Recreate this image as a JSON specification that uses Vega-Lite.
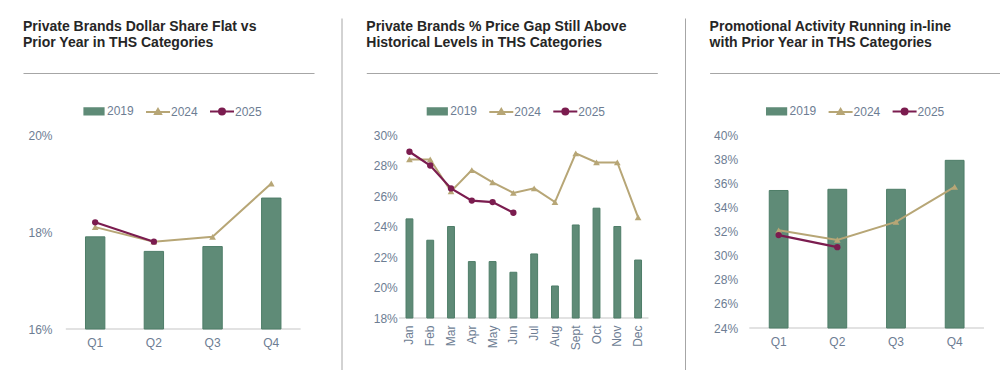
{
  "$schema": "https://vega.github.io/schema/vega-lite/v6.json",
  "padding": {"left": 23, "top": 18, "right": 0, "bottom": 0},
  "autosize": {"type": "pad"},
  "spacing": 52.3,
  "bounds": "flush",
  "resolve": {"scale": {"color": "independent"}, "legend": {"color": "independent"}},
  "datasets": {
    "p1": [
      {"period": "Q1", "series": "2019", "value": 0.179},
      {"period": "Q2", "series": "2019", "value": 0.176},
      {"period": "Q3", "series": "2019", "value": 0.177},
      {"period": "Q4", "series": "2019", "value": 0.187},
      {"period": "Q1", "series": "2024", "value": 0.181},
      {"period": "Q2", "series": "2024", "value": 0.178},
      {"period": "Q3", "series": "2024", "value": 0.179},
      {"period": "Q4", "series": "2024", "value": 0.190},
      {"period": "Q1", "series": "2025", "value": 0.182},
      {"period": "Q2", "series": "2025", "value": 0.178}
    ],
    "p2": [
      {"period": "Jan", "series": "2019", "value": 0.245},
      {"period": "Feb", "series": "2019", "value": 0.231},
      {"period": "Mar", "series": "2019", "value": 0.240},
      {"period": "Apr", "series": "2019", "value": 0.217},
      {"period": "May", "series": "2019", "value": 0.217},
      {"period": "Jun", "series": "2019", "value": 0.210},
      {"period": "Jul", "series": "2019", "value": 0.222},
      {"period": "Aug", "series": "2019", "value": 0.201},
      {"period": "Sept", "series": "2019", "value": 0.241},
      {"period": "Oct", "series": "2019", "value": 0.252},
      {"period": "Nov", "series": "2019", "value": 0.240},
      {"period": "Dec", "series": "2019", "value": 0.218},
      {"period": "Jan", "series": "2024", "value": 0.284},
      {"period": "Feb", "series": "2024", "value": 0.284},
      {"period": "Mar", "series": "2024", "value": 0.263},
      {"period": "Apr", "series": "2024", "value": 0.277},
      {"period": "May", "series": "2024", "value": 0.269},
      {"period": "Jun", "series": "2024", "value": 0.262},
      {"period": "Jul", "series": "2024", "value": 0.265},
      {"period": "Aug", "series": "2024", "value": 0.256},
      {"period": "Sept", "series": "2024", "value": 0.288},
      {"period": "Oct", "series": "2024", "value": 0.282},
      {"period": "Nov", "series": "2024", "value": 0.282},
      {"period": "Dec", "series": "2024", "value": 0.246},
      {"period": "Jan", "series": "2025", "value": 0.289},
      {"period": "Feb", "series": "2025", "value": 0.280},
      {"period": "Mar", "series": "2025", "value": 0.265},
      {"period": "Apr", "series": "2025", "value": 0.257},
      {"period": "May", "series": "2025", "value": 0.256},
      {"period": "Jun", "series": "2025", "value": 0.249}
    ],
    "p3": [
      {"period": "Q1", "series": "2019", "value": 0.354},
      {"period": "Q2", "series": "2019", "value": 0.355},
      {"period": "Q3", "series": "2019", "value": 0.355},
      {"period": "Q4", "series": "2019", "value": 0.379},
      {"period": "Q1", "series": "2024", "value": 0.321},
      {"period": "Q2", "series": "2024", "value": 0.313},
      {"period": "Q3", "series": "2024", "value": 0.328},
      {"period": "Q4", "series": "2024", "value": 0.357},
      {"period": "Q1", "series": "2025", "value": 0.317},
      {"period": "Q2", "series": "2025", "value": 0.307}
    ]
  },
  "hconcat": [
    {
      "width": 291, "height": 194,
      "title": {"text": ["Private Brands Dollar Share Flat vs", "Prior Year in THS Categories"], "anchor": "start", "frame": "group", "offset": -32},
      "data": {"name": "p1"},
      "resolve": {"scale": {"y": "independent"}, "axis": {"x": "independent", "y": "independent"}},
      "layer": [
        {
          "resolve": {"axis": {"x": "independent", "y": "independent"}},
          "layer": [
            {
              "data": {"values": [{"a": "Q1", "b": "Q4", "base": 0.16}]},
              "mark": {"type": "rule", "color": "#d9d9d9", "strokeWidth": 1.5},
              "encoding": {
                "x": {"field": "a", "type": "nominal", "bandPosition": 0,
                      "scale": {"domain": ["Q1", "Q2", "Q3", "Q4"], "paddingInner": 0, "paddingOuter": 0.4787, "align": 0.762},
                      "axis": {"orient": "top", "offset": 62, "labels": false, "ticks": false, "grid": false, "domain": true, "domainColor": "#a6a6a6", "domainWidth": 1.2, "title": null}},
                "x2": {"field": "b", "bandPosition": 1},
                "y": {"field": "base", "type": "quantitative", "axis": null}
              }
            },
            {
              "transform": [{"filter": "datum.series == '2019'"}],
              "mark": {"type": "bar", "width": {"band": 0.33}, "stroke": "#4e7d68", "strokeWidth": 1},
              "encoding": {
                "x": {"field": "period", "type": "nominal", "scale": {"domain": ["Q1", "Q2", "Q3", "Q4"]},
                      "axis": {"orient": "bottom", "labelPadding": 8, "labelAngle": 0, "title": null}},
                "y": {"field": "value", "type": "quantitative", "scale": {"domain": [0.16, 0.20], "zero": false, "nice": false},
                      "axis": {"values": [0.16, 0.18, 0.20], "format": ".0%", "offset": -29, "labelPadding": 0, "title": null}},
                "y2": {"datum": 0.16},
                "color": {"field": "series", "type": "nominal",
                          "scale": {"domain": ["2019", "2024", "2025"], "range": ["#5f8b77", "#b7a676", "#7b1c4f"]},
                          "legend": {"title": null, "orient": "none", "legendX": 58, "legendY": -37, "direction": "horizontal", "columns": 3,
                                     "padding": 0, "columnPadding": 8, "labelOffset": 0, "symbolSize": 576,
                                     "symbolType": {"expr": "(datum.value == '2019' ? 'M-0.8,-0.26H0.8V0.26H-0.8Z' : datum.value == '2024' ? 'M-1,0H1M0,-0.24L0.25,0.18L-0.25,0.18Z' : 'M-1,0H1M0.25,0A0.25,0.25,0,1,1,-0.25,0A0.25,0.25,0,1,1,0.25,0Z')"},
                                     "symbolStrokeColor": {"expr": "(datum.value == '2019' ? '#5f8b77' : datum.value == '2024' ? '#b7a676' : '#7b1c4f')"},
                                     "symbolStrokeWidth": 2,
                                     "symbolOpacity": 1}}
              }
            },
            {
              "transform": [{"filter": "datum.series == '2024'"}],
              "mark": {"type": "line", "strokeWidth": 2, "point": {"shape": "triangle-up", "size": 45, "filled": true}},
              "encoding": {
                "x": {"field": "period", "type": "nominal", "axis": null},
                "y": {"field": "value", "type": "quantitative", "axis": null},
                "color": {"field": "series", "type": "nominal", "legend": null}
              }
            },
            {
              "transform": [{"filter": "datum.series == '2025'"}],
              "mark": {"type": "line", "strokeWidth": 2.2, "point": {"shape": "circle", "size": 40, "filled": true}},
              "encoding": {
                "x": {"field": "period", "type": "nominal", "axis": null},
                "y": {"field": "value", "type": "quantitative", "axis": null},
                "color": {"field": "series", "type": "nominal", "legend": null}
              }
            }
          ]
        },
        {
          "mark": {"type": "point", "opacity": 0},
          "encoding": {
            "x": {"field": "period", "type": "nominal", "axis": null},
            "y": {"field": "value", "type": "quantitative", "scale": {"range": [352, 0]},
                  "axis": {"orient": "right", "offset": 27.5, "position": -117, "domain": true, "domainColor": "#a6a6a6", "domainWidth": 1, "labels": false, "ticks": false, "grid": false, "title": null}}
          }
        }
      ]
    },
    {
      "width": 291, "height": 183,
      "title": {"text": ["Private Brands % Price Gap Still Above", "Historical Levels in THS Categories"], "anchor": "start", "frame": "group", "offset": -32},
      "data": {"name": "p2"},
      "resolve": {"scale": {"y": "independent"}, "axis": {"x": "independent", "y": "independent"}},
      "layer": [
        {
          "resolve": {"axis": {"x": "independent", "y": "independent"}},
          "layer": [
            {
              "data": {"values": [{"a": "Jan", "b": "Dec", "base": 0.18}]},
              "mark": {"type": "rule", "color": "#d9d9d9", "strokeWidth": 1.5},
              "encoding": {
                "x": {"field": "a", "type": "nominal", "bandPosition": 0,
                      "scale": {"domain": ["Jan", "Feb", "Mar", "Apr", "May", "Jun", "Jul", "Aug", "Sept", "Oct", "Nov", "Dec"], "paddingInner": 0, "paddingOuter": 1.433, "align": 0.788},
                      "axis": {"orient": "top", "offset": 62, "labels": false, "ticks": false, "grid": false, "domain": true, "domainColor": "#a6a6a6", "domainWidth": 1.2, "title": null}},
                "x2": {"field": "b", "bandPosition": 1},
                "y": {"field": "base", "type": "quantitative", "axis": null}
              }
            },
            {
              "transform": [{"filter": "datum.series == '2019'"}],
              "mark": {"type": "bar", "width": {"band": 0.33}, "stroke": "#4e7d68", "strokeWidth": 1},
              "encoding": {
                "x": {"field": "period", "type": "nominal", "scale": {"domain": ["Jan", "Feb", "Mar", "Apr", "May", "Jun", "Jul", "Aug", "Sept", "Oct", "Nov", "Dec"]},
                      "axis": {"orient": "bottom", "labelPadding": 7, "labelAngle": -90, "title": null}},
                "y": {"field": "value", "type": "quantitative", "scale": {"domain": [0.18, 0.30], "zero": false, "nice": false},
                      "axis": {"values": [0.18, 0.20, 0.22, 0.24, 0.26, 0.28, 0.30], "format": ".0%", "offset": -31, "labelPadding": 0, "title": null}},
                "y2": {"datum": 0.18},
                "color": {"field": "series", "type": "nominal",
                          "scale": {"domain": ["2019", "2024", "2025"], "range": ["#5f8b77", "#b7a676", "#7b1c4f"]},
                          "legend": {"title": null, "orient": "none", "legendX": 58, "legendY": -37, "direction": "horizontal", "columns": 3,
                                     "padding": 0, "columnPadding": 8, "labelOffset": 0, "symbolSize": 576,
                                     "symbolType": {"expr": "(datum.value == '2019' ? 'M-0.8,-0.26H0.8V0.26H-0.8Z' : datum.value == '2024' ? 'M-1,0H1M0,-0.24L0.25,0.18L-0.25,0.18Z' : 'M-1,0H1M0.25,0A0.25,0.25,0,1,1,-0.25,0A0.25,0.25,0,1,1,0.25,0Z')"},
                                     "symbolStrokeColor": {"expr": "(datum.value == '2019' ? '#5f8b77' : datum.value == '2024' ? '#b7a676' : '#7b1c4f')"},
                                     "symbolStrokeWidth": 2,
                                     "symbolOpacity": 1}}
              }
            },
            {
              "transform": [{"filter": "datum.series == '2024'"}],
              "mark": {"type": "line", "strokeWidth": 2, "point": {"shape": "triangle-up", "size": 45, "filled": true}},
              "encoding": {
                "x": {"field": "period", "type": "nominal", "axis": null},
                "y": {"field": "value", "type": "quantitative", "axis": null},
                "color": {"field": "series", "type": "nominal", "legend": null}
              }
            },
            {
              "transform": [{"filter": "datum.series == '2025'"}],
              "mark": {"type": "line", "strokeWidth": 2.2, "point": {"shape": "circle", "size": 40, "filled": true}},
              "encoding": {
                "x": {"field": "period", "type": "nominal", "axis": null},
                "y": {"field": "value", "type": "quantitative", "axis": null},
                "color": {"field": "series", "type": "nominal", "legend": null}
              }
            }
          ]
        },
        {
          "mark": {"type": "point", "opacity": 0},
          "encoding": {
            "x": {"field": "period", "type": "nominal", "axis": null},
            "y": {"field": "value", "type": "quantitative", "scale": {"range": [352, 0]},
                  "axis": {"orient": "right", "offset": 27.7, "position": -117, "domain": true, "domainColor": "#a6a6a6", "domainWidth": 1, "labels": false, "ticks": false, "grid": false, "title": null}}
          }
        }
      ]
    },
    {
      "width": 291, "height": 193,
      "title": {"text": ["Promotional Activity Running in-line", "with Prior Year in THS Categories"], "anchor": "start", "frame": "group", "offset": 23},
      "data": {"name": "p3"},
      "resolve": {"axis": {"x": "independent", "y": "independent"}},
      "layer": [
        {
          "data": {"values": [{"a": "Q1", "b": "Q4", "base": 0.24}]},
          "mark": {"type": "rule", "color": "#d9d9d9", "strokeWidth": 1.5},
          "encoding": {
            "x": {"field": "a", "type": "nominal", "bandPosition": 0,
                  "scale": {"domain": ["Q1", "Q2", "Q3", "Q4"], "paddingInner": 0, "paddingOuter": 0.48, "align": 0.705},
                  "axis": {"orient": "top", "offset": 62, "labels": false, "ticks": false, "grid": false, "domain": true, "domainColor": "#a6a6a6", "domainWidth": 1.2, "title": null}},
            "x2": {"field": "b", "bandPosition": 1},
            "y": {"field": "base", "type": "quantitative", "axis": null}
          }
        },
        {
          "transform": [{"filter": "datum.series == '2019'"}],
          "mark": {"type": "bar", "width": {"band": 0.32}, "stroke": "#4e7d68", "strokeWidth": 1},
          "encoding": {
            "x": {"field": "period", "type": "nominal", "scale": {"domain": ["Q1", "Q2", "Q3", "Q4"]},
                  "axis": {"orient": "bottom", "labelPadding": 8, "labelAngle": 0, "title": null}},
            "y": {"field": "value", "type": "quantitative", "scale": {"domain": [0.24, 0.40], "zero": false, "nice": false},
                  "axis": {"values": [0.24, 0.26, 0.28, 0.30, 0.32, 0.34, 0.36, 0.38, 0.40], "format": ".0%", "offset": -28, "labelPadding": 0, "title": null}},
            "y2": {"datum": 0.24},
            "color": {"field": "series", "type": "nominal",
                      "scale": {"domain": ["2019", "2024", "2025"], "range": ["#5f8b77", "#b7a676", "#7b1c4f"]},
                      "legend": {"title": null, "orient": "none", "legendX": 54, "legendY": -37, "direction": "horizontal", "columns": 3,
                                 "padding": 0, "columnPadding": 8, "labelOffset": 0, "symbolSize": 576,
                                 "symbolType": {"expr": "(datum.value == '2019' ? 'M-0.8,-0.26H0.8V0.26H-0.8Z' : datum.value == '2024' ? 'M-1,0H1M0,-0.24L0.25,0.18L-0.25,0.18Z' : 'M-1,0H1M0.25,0A0.25,0.25,0,1,1,-0.25,0A0.25,0.25,0,1,1,0.25,0Z')"},
                                 "symbolStrokeColor": {"expr": "(datum.value == '2019' ? '#5f8b77' : datum.value == '2024' ? '#b7a676' : '#7b1c4f')"},
                                 "symbolStrokeWidth": 2,
                                 "symbolOpacity": 1}}
          }
        },
        {
          "transform": [{"filter": "datum.series == '2024'"}],
          "mark": {"type": "line", "strokeWidth": 2, "point": {"shape": "triangle-up", "size": 45, "filled": true}},
          "encoding": {
            "x": {"field": "period", "type": "nominal", "axis": null},
            "y": {"field": "value", "type": "quantitative", "axis": null},
            "color": {"field": "series", "type": "nominal", "legend": null}
          }
        },
        {
          "transform": [{"filter": "datum.series == '2025'"}],
          "mark": {"type": "line", "strokeWidth": 2.2, "point": {"shape": "circle", "size": 40, "filled": true}},
          "encoding": {
            "x": {"field": "period", "type": "nominal", "axis": null},
            "y": {"field": "value", "type": "quantitative", "axis": null},
            "color": {"field": "series", "type": "nominal", "legend": null}
          }
        }
      ]
    }
  ],
  "config": {
    "view": {"stroke": null},
    "font": "Liberation Sans",
    "title": {"font": "Liberation Sans", "fontSize": 14, "fontWeight": "bold", "color": "#262626", "lineHeight": 16},
    "axis": {"labelFont": "Liberation Sans", "labelFontSize": 12, "labelColor": "#6d7d93", "domain": false, "ticks": false, "grid": false},
    "legend": {"labelFont": "Liberation Sans", "labelFontSize": 12, "labelColor": "#6d7d93"}
  }
}
